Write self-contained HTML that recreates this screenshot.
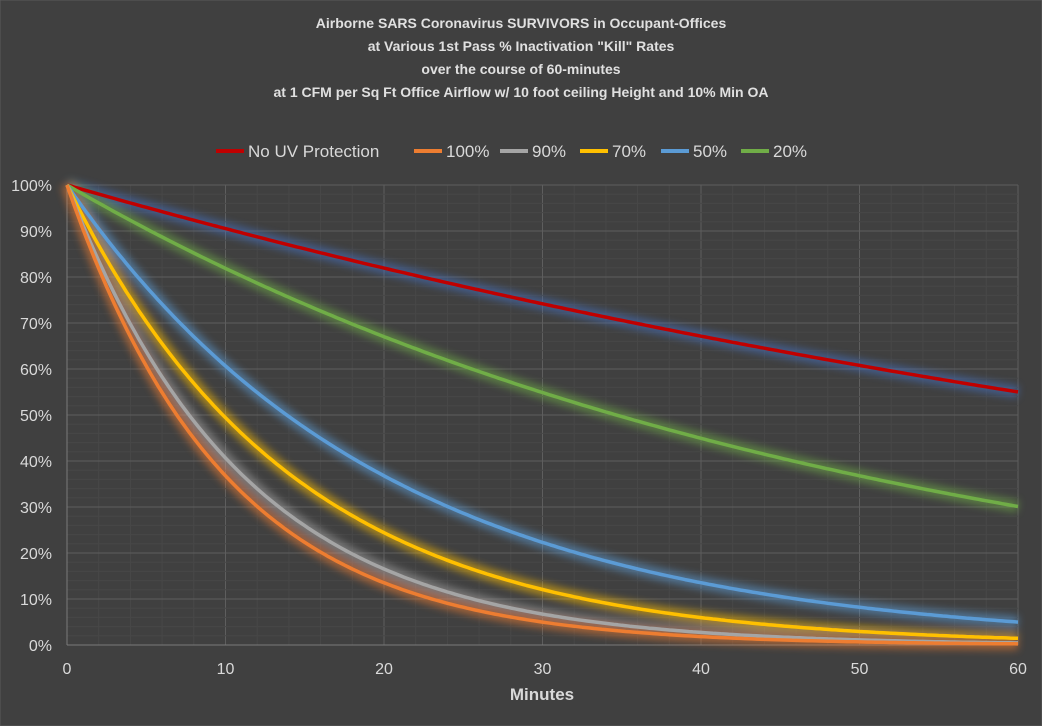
<!DOCTYPE html>
<html><head><meta charset="utf-8"><style>
html,body{margin:0;padding:0;background:#404040;}
svg{display:block;font-family:"Liberation Sans",sans-serif;}
</style></head><body>
<svg id="s" width="1042" height="726" viewBox="0 0 1042 726" xmlns="http://www.w3.org/2000/svg">
<defs><filter id="g" x="-10%" y="-10%" width="120%" height="120%"><feGaussianBlur stdDeviation="4"/></filter></defs>
<rect x="0" y="0" width="1042" height="726" fill="#404040" stroke="#5a5a5a"/>
<g fill="#e0e0e0" font-weight="bold" font-size="14" text-anchor="middle">
<text x="521" y="28">Airborne SARS Coronavirus SURVIVORS in Occupant-Offices</text>
<text x="521" y="51">at Various 1st Pass % Inactivation "Kill" Rates</text>
<text x="521" y="74">over the course of 60-minutes</text>
<text x="521" y="97">at 1 CFM per Sq Ft Office Airflow w/ 10 foot ceiling Height and 10% Min OA</text>
</g>
<g id="grid"></g>
<g id="glow" filter="url(#g)" opacity="0.55"></g>
<g id="lines"></g>
<g id="lab" fill="#d9d9d9" font-size="16"></g>
<text x="542" y="700" fill="#d9d9d9" font-size="17" font-weight="bold" text-anchor="middle">Minutes</text>
<g font-size="17" fill="#d9d9d9">
<line x1="216" y1="151" x2="244" y2="151" stroke="#c00000" stroke-width="4"/><text x="248" y="157">No UV Protection</text>
<line x1="414" y1="151" x2="442" y2="151" stroke="#ed7d31" stroke-width="4"/><text x="446" y="157">100%</text>
<line x1="500" y1="151" x2="528" y2="151" stroke="#a5a5a5" stroke-width="4"/><text x="532" y="157">90%</text>
<line x1="580" y1="151" x2="608" y2="151" stroke="#ffc000" stroke-width="4"/><text x="612" y="157">70%</text>
<line x1="661" y1="151" x2="689" y2="151" stroke="#5b9bd5" stroke-width="4"/><text x="693" y="157">50%</text>
<line x1="741" y1="151" x2="769" y2="151" stroke="#70ad47" stroke-width="4"/><text x="773" y="157">20%</text>
</g>
</svg>
<script>
var ns="http://www.w3.org/2000/svg";
function el(p,t,a,txt){var e=document.createElementNS(ns,t);for(var k in a)e.setAttribute(k,a[k]);if(txt!=null)e.textContent=txt;document.getElementById(p).appendChild(e);}
var X0=67,X1=1018,Y0=645,Y1=185;
function px(m){return X0+(X1-X0)*m/60;}function py(v){return Y0-(Y0-Y1)*v;}
for(var m=0;m<=60;m+=2)el("grid","line",{x1:px(m),x2:px(m),y1:Y1,y2:Y0,stroke:m%10?"#484848":"#5e5e5e","stroke-width":1});
for(var v=0;v<=50;v++){if(v%5==0)continue;el("grid","line",{x1:X0,x2:X1,y1:py(v/50),y2:py(v/50),stroke:"#474747","stroke-width":1});}
for(var i=0;i<=10;i++){el("grid","line",{x1:X0,x2:X1,y1:py(i/10),y2:py(i/10),stroke:"#5e5e5e","stroke-width":1});
el("lab","text",{x:52,y:py(i/10)+6,"text-anchor":"end"},(i*10)+"%");}
el("grid","line",{x1:X0,x2:X0,y1:Y1,y2:Y0,stroke:"#7a7a7a"});
el("grid","line",{x1:X0,x2:X1,y1:Y0,y2:Y0,stroke:"#7a7a7a"});
for(var m=0;m<=60;m+=10)el("lab","text",{x:px(m),y:674,"text-anchor":"middle"},m);
var S=[[0.00996,"#c00000","#4472c4"],[0.02,"#70ad47","#70ad47"],[0.05,"#5b9bd5","#5b9bd5"],[0.0705,"#ffc000","#ffc000"],[0.09,"#a5a5a5","#a5a5a5"],[0.1,"#ed7d31","#ed7d31"]];
S.forEach(function(s){var d="";for(var t=0;t<=60;t+=0.25)d+=(t?"L":"M")+px(t).toFixed(1)+","+py(Math.exp(-s[0]*t)).toFixed(1);
el("glow","path",{d:d,fill:"none",stroke:s[2],"stroke-width":12});
el("lines","path",{d:d,fill:"none",stroke:s[1],"stroke-width":3.5,"stroke-linejoin":"round"});});
</script>
</body></html>
